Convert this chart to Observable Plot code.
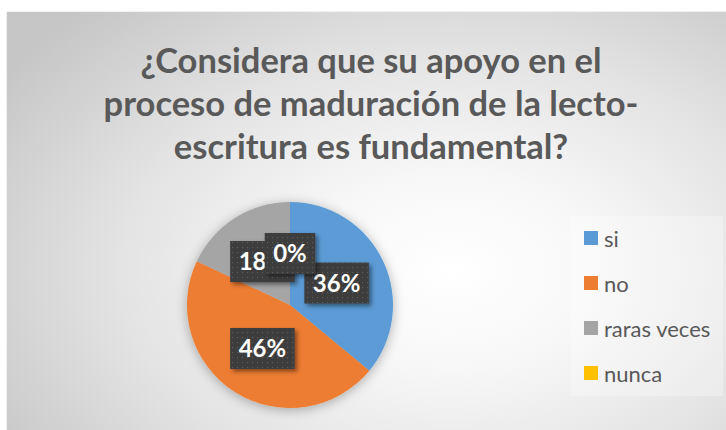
<!DOCTYPE html>
<html>
<head>
<meta charset="utf-8">
<script src="https://cdn.jsdelivr.net/npm/d3@7"></script>
<script src="https://cdn.jsdelivr.net/npm/@observablehq/plot@0.6"></script>
<style>
  html, body { margin: 0; padding: 0; background: #ffffff; }
  #root { position: relative; width: 726px; height: 430px; overflow: hidden; background: #fff; font-family: Lato, "Open Sans", sans-serif; }
  #panel { position: absolute; left: 7px; top: 12px; width: 719px; height: 418px;
    background: radial-gradient(ellipse 75% 85% at 62% 62%, #ffffff 0%, #f7f7f7 28%, #e3e3e3 62%, #c6c6c6 100%);
    box-shadow: 0 0 1px rgba(0,0,0,0.35); }
  #title { position: absolute; left: 7px; top: 38px; width: 719px; padding-left: 9px; box-sizing: border-box;
    text-align: center; color: #595959; font-weight: 700; font-size: 34.5px; line-height: 43px; }
  #legend { position: absolute; left: 571px; top: 216px; width: 152px; height: 180px; background: rgba(255,255,255,0.28); }
  .item { position: absolute; left: 13px; height: 24px; display: flex; align-items: center; color: #595959; font-size: 22px; white-space: nowrap; }
  .sw { width: 14px; height: 14px; margin-right: 6px; }
  #chart { position: absolute; left: 170px; top: 185px; }
  #chart svg { overflow: visible; }
</style>
</head>
<body>
<div id="root">
  <div id="panel"></div>
  <div id="title">¿Considera que su apoyo en el<br>proceso de maduración de la lecto-<br>escritura es fundamental?</div>
  <div id="legend"></div>
  <div id="chart"></div>
</div>
<script>
const categories = ["si", "no", "raras veces", "nunca"];
const values = [36, 46, 18, 0];
const labels = ["36%", "46%", "18%", "0%"];
const colors = ["#5B9BD5", "#ED7D31", "#A5A5A5", "#FFC000"];

const pie = d3.pie().sort(null).value(d => d.value);
const rows = categories.map((c, i) => ({category: c, value: values[i], label: labels[i], color: colors[i]}));
const arcs = pie(rows);
// label anchor at half radius along the slice's middle angle (data units, radius = 1)
const anchors = arcs.map(a => {
  const m = (a.startAngle + a.endAngle) / 2;
  return {category: a.data.category, label: a.data.label, x: 0.5 * Math.sin(m), y: 0.5 * Math.cos(m)};
});

const measure = document.createElement("canvas").getContext("2d");
measure.font = "bold 24px Lato";

function pieMark(index, scales, vals, dimensions, context) {
  const ns = "http://www.w3.org/2000/svg";
  const g = d3.select(document.createElementNS(ns, "g"));
  const defs = g.append("defs");
  const pat = defs.append("pattern").attr("id", "dots").attr("patternUnits", "userSpaceOnUse")
    .attr("width", 5).attr("height", 5);
  pat.append("rect").attr("width", 5).attr("height", 5).attr("fill", "#3d3d3d");
  pat.append("rect").attr("x", 2).attr("y", 2).attr("width", 1.2).attr("height", 1.2).attr("fill", "#5c5c5c");
  const f1 = defs.append("filter").attr("id", "pieShadow").attr("x", "-30%").attr("y", "-30%").attr("width", "160%").attr("height", "160%");
  f1.append("feDropShadow").attr("dx", 0).attr("dy", 2).attr("stdDeviation", 6).attr("flood-color", "#000").attr("flood-opacity", 0.3);
  const f2 = defs.append("filter").attr("id", "boxShadow").attr("x", "-30%").attr("y", "-30%").attr("width", "160%").attr("height", "160%");
  f2.append("feDropShadow").attr("dx", 2.5).attr("dy", 2.5).attr("stdDeviation", 2).attr("flood-color", "#000").attr("flood-opacity", 0.45);

  const cx = scales.x(0), cy = scales.y(0);
  const R = scales.x(1) - scales.x(0);
  const arc = d3.arc().innerRadius(0).outerRadius(R);
  const pg = g.append("g").attr("transform", `translate(${cx},${cy})`).attr("filter", "url(#pieShadow)");
  pg.selectAll("path").data(arcs).join("path").attr("d", arc).attr("fill", d => d.data.color);

  anchors.forEach(a => {
    const px = scales.x(a.x), py = scales.y(a.y);
    const w = measure.measureText(a.label).width + 17, h = 41;
    const lg = g.append("g");
    lg.append("rect").attr("x", px - w / 2).attr("y", py - h / 2).attr("width", w).attr("height", h)
      .attr("fill", "url(#dots)").attr("filter", "url(#boxShadow)");
    lg.append("text").attr("x", px).attr("y", py).attr("dy", "0.36em").attr("text-anchor", "middle")
      .attr("fill", "#ffffff").attr("font-family", "Lato, 'Open Sans', sans-serif").attr("font-weight", 700)
      .attr("font-size", 24).text(a.label);
  });
  return g.node();
}

const chart = Plot.plot({
  width: 240,
  height: 240,
  margin: 17,
  x: {domain: [-1, 1], axis: null},
  y: {domain: [-1, 1], axis: null},
  style: {background: "transparent", overflow: "visible"},
  marks: [
    Plot.dot(anchors, {x: "x", y: "y", r: 0}),
    pieMark
  ]
});
document.getElementById("chart").append(chart);

const legend = document.getElementById("legend");
categories.forEach((c, i) => {
  const it = document.createElement("div");
  it.className = "item";
  it.style.top = (10 + i * 45) + "px";
  const sw = document.createElement("span");
  sw.className = "sw";
  sw.style.background = colors[i];
  it.append(sw, document.createTextNode(c));
  legend.append(it);
});
</script>
</body>
</html>
